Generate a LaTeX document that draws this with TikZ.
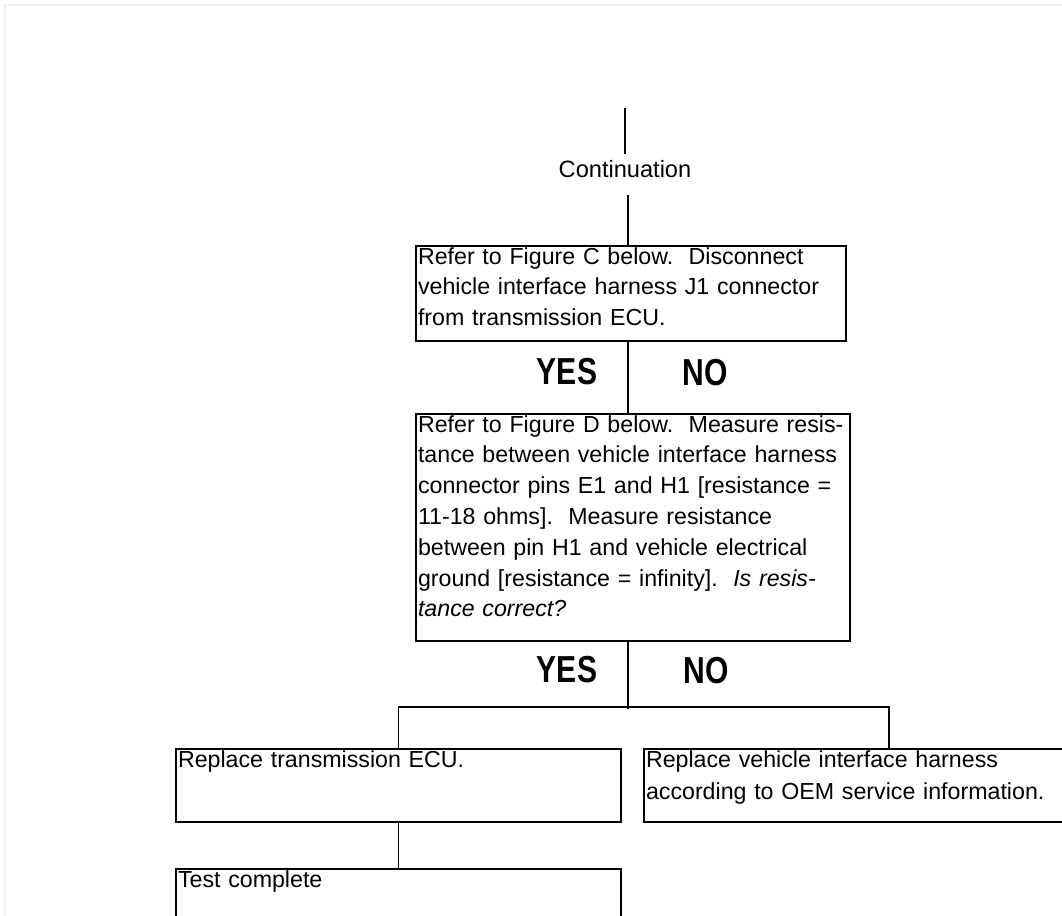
\documentclass[tikz,border=0pt]{standalone}
\usepackage{fontspec}
\setmainfont{Liberation Sans}
\newfontfamily\condbold{Liberation Sans}[FakeStretch=0.8]
\tikzset{
  stepbox/.style={draw, line width=1pt, anchor=north west, inner xsep=1pt, inner ysep=0.5pt,
    align=left, text height=8.5pt, font=\fontsize{11.6}{15.4}\selectfont\frenchspacing},
  answer/.style={font=\condbold\bfseries\fontsize{18.8}{21}\selectfont},
  link/.style={line width=0.9pt}
}
\begin{document}
\begin{tikzpicture}[x=0.5pt, y=-0.5pt]
    % 页面范围
    \useasboundingbox (0,0) rectangle (1062,916);
    \draw[black!6, line width=1pt] (5,916) -- (5,5) -- (1062,5);

    % 续接入口
    \coordinate (entry) at (625,108);
    \coordinate (spine) at (628,0);
    \node[font=\fontsize{11.8}{14}\selectfont, inner sep=0pt] (cont) at (625,169.5) {Continuation};
    \draw[link] (entry) -- ([yshift=3pt]cont.north);

    % 断开 J1 连接器
    \node[stepbox, text width=213pt, text depth=38pt] (discon) at (415,245)
      {Refer to Figure C below.~ Disconnect\\
       vehicle interface harness J1 connector\\
       from transmission ECU.};
    \draw[link] ([yshift=-8pt]cont.south -| spine) -- (discon.north -| spine);

    \node[answer] (yes1) at (567,371.5) {YES};
    \node[answer] (no1) at (705,372.5) {NO};

    % 测量电阻
    \node[stepbox, text width=215pt, text depth=104pt] (measure) at (415,413)
      {Refer to Figure D below.~ Measure resis-\\
       tance between vehicle interface harness\\
       connector pins E1 and H1 [resistance =\\
       11-18 ohms].~ Measure resistance\\
       between pin H1 and vehicle electrical\\
       ground [resistance = infinity].~ \textit{Is resis-}\\
       \textit{tance correct?}};
    \draw[link] (discon.south -| spine) -- (measure.north -| spine);

    \node[answer] (yes2) at (567,670) {YES};
    \node[answer] (no2) at (706,671) {NO};

    % 分支
    \coordinate (fork) at (628,707);
    \node[stepbox, text width=220.5pt, text depth=27pt] (ecu) at (175,748)
      {Replace transmission ECU.};
    \node[stepbox, text width=243pt, text depth=27pt,
      font=\fontsize{11.6}{16.4}\selectfont] (harness) at (643,748)
      {Replace vehicle interface harness\\
       according to OEM service information.};
    \draw[link] (measure.south -| spine) -- ([yshift=-1pt]fork);
    \draw[link] (ecu.north) |- (fork) -| (harness.north);

    % 结束
    \node[stepbox, text width=220.5pt, text depth=27pt] (done) at (175,868) {Test complete};
    \draw[link] (ecu.south) -- (done.north);
\end{tikzpicture}
\end{document}
